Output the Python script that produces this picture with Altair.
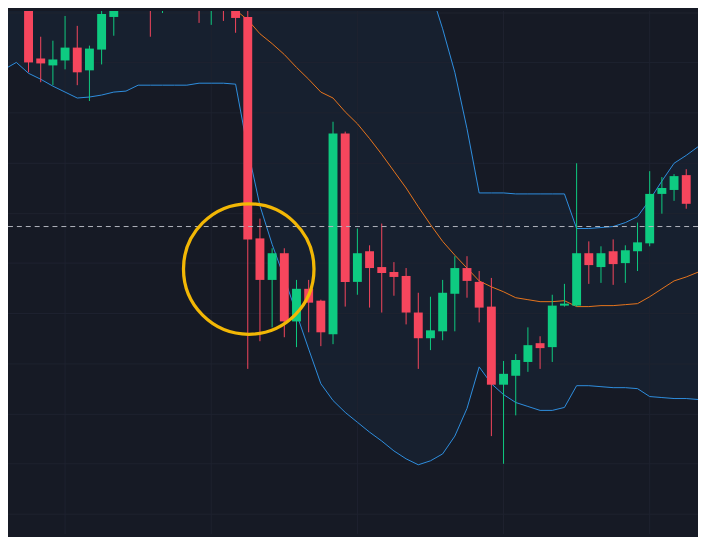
import altair as alt
import pandas as pd

# ---- candle data (index, OHLC in price units) ----
idx = list(range(-1, 55))
opens = [542, 557, 481, 474, 479, 492, 469, 490, 523, 549, 567, 552, 531, 547, 539, 543, 536, 545, 539,
         523, 299, 257, 284, 215, 248, 236, 202, 405, 255, 286, 270, 265, 261, 224, 198, 205, 243, 269,
         255, 230, 151, 160, 174, 193, 189, 231, 231, 284, 270, 286, 274, 286, 294, 344, 348, 363]
highs = [572, 577, 503, 499, 524, 514, 494, 529, 559, 577, 579, 565, 557, 559, 550, 552, 555, 555, 549,
         542, 319, 289, 289, 257, 257, 237, 417, 407, 309, 292, 314, 275, 269, 244, 240, 257, 281, 281,
         266, 259, 175, 182, 209, 200, 242, 253, 375, 296, 291, 298, 292, 315, 367, 361, 364, 369]
lows = [534, 467, 457, 454, 470, 454, 438, 475, 504, 534, 540, 503, 527, 533, 531, 517, 515, 519, 507,
        167, 195, 209, 199, 189, 204, 190, 192, 230, 242, 229, 224, 241, 212, 167, 186, 196, 205, 239,
        214, 99, 71, 120, 164, 167, 174, 230, 230, 253, 254, 252, 254, 266, 291, 324, 337, 329]
closes = [562, 477, 476, 480, 492, 467, 491, 526, 549, 567, 552, 530, 547, 539, 535, 536, 545, 537, 522,
          298, 257, 284, 215, 248, 234, 204, 405, 255, 284, 269, 264, 260, 224, 198, 206, 244, 269, 256,
          229, 151, 162, 176, 191, 188, 231, 233, 284, 272, 284, 273, 287, 295, 344, 350, 362, 334]

# ---- Bollinger bands ----
band_idx = list(range(-2, 56))
upper = [607, 602, 612, 615, 619, 625, 632, 631, 630, 627, 625, 619, 619, 619, 619, 619, 617, 617, 612,
         607, 648, 680, 705, 723, 732, 741, 742, 745, 731, 717, 697, 674, 650, 624, 594, 550, 511, 467,
         410, 345, 345, 345, 344, 344, 344, 344, 344, 309, 309, 310, 311, 315, 321, 338, 357, 375, 383, 392]
middle = [540, 540, 542, 541, 540, 539, 537, 537, 538, 540, 541, 539, 536, 535, 537, 538, 537, 536, 534,
          530, 520, 506, 496, 485, 472, 460, 447, 441, 427, 415, 400, 384, 367, 350, 331, 313, 296, 282,
          269, 256, 250, 245, 239, 237, 235, 235, 236, 230, 230, 231, 231, 232, 233, 240, 248, 256, 260, 265]
lower = [470, 477, 466, 460, 453, 447, 441, 442, 444, 447, 448, 454, 454, 454, 454, 454, 456, 456, 456,
         455, 389, 332, 293, 259, 223, 187, 152, 135, 123, 113, 103, 94, 84, 76, 70, 74, 81, 99,
         127, 169, 152, 141, 133, 129, 125, 125, 128, 150, 150, 149, 148, 148, 147, 139, 138, 137, 137, 136]

grid_x = [3, 15, 27, 39, 51]
grid_y = [20, 71, 121, 172, 223, 274, 324, 375, 426, 477, 527]
price_line = [311]
circle_x = [18.08]
circle_y = [268]

BG = "#161a25"
UP = "#0ecb81"
DOWN = "#f6465d"

candles = pd.DataFrame({"i": idx, "open": opens, "high": highs, "low": lows, "close": closes})
candles["dir"] = ["up" if c >= o else "down" for o, c in zip(opens, closes)]
bands = pd.DataFrame({"i": band_idx, "upper": upper, "middle": middle, "lower": lower})

xs = alt.Scale(domain=[-1.28, 54.56], nice=False, zero=False)
ys = alt.Scale(domain=[0, 529], nice=False, zero=False)
X = lambda f: alt.X(f, type="quantitative", scale=xs, axis=None)
Y = lambda f: alt.Y(f, type="quantitative", scale=ys, axis=None)
col = alt.Color("dir:N", scale=alt.Scale(domain=["up", "down"], range=[UP, DOWN]), legend=None)

fill = alt.Chart(bands).mark_area(color="#17202f", clip=True).encode(x=X("i"), y=Y("upper"), y2="lower")

gx = alt.Chart(pd.DataFrame({"g": grid_x})).mark_rule(color="#1e2230", strokeWidth=1, clip=True).encode(x=X("g"))
gy = alt.Chart(pd.DataFrame({"g": grid_y})).mark_rule(color="#1e2230", strokeWidth=1, clip=True).encode(y=Y("g"))

up_line = alt.Chart(bands).mark_line(color="#2f8fe0", strokeWidth=1, clip=True).encode(x=X("i"), y=Y("upper"))
lo_line = alt.Chart(bands).mark_line(color="#2f8fe0", strokeWidth=1, clip=True).encode(x=X("i"), y=Y("lower"))
mid_line = alt.Chart(bands).mark_line(color="#e8741c", strokeWidth=1, clip=True).encode(x=X("i"), y=Y("middle"))

wicks = alt.Chart(candles).mark_rule(strokeWidth=1, clip=True).encode(x=X("i"), y=Y("low"), y2="high", color=col)
bodies = alt.Chart(candles).mark_bar(size=9, clip=True).encode(x=X("i"), y=Y("open"), y2="close", color=col)

pline = alt.Chart(pd.DataFrame({"p": price_line})).mark_rule(
    color="#b2b5be", strokeWidth=1, strokeDash=[5, 4], clip=True).encode(y=Y("p"))

circle = alt.Chart(pd.DataFrame({"x": circle_x, "y": circle_y})).mark_point(
    shape="circle", size=17424, filled=False, color="#f2b705", strokeWidth=3.3, opacity=1, clip=True
).encode(x=X("x"), y=Y("y"))

chart = alt.layer(fill, gx, gy, up_line, lo_line, mid_line, wicks, bodies, pline, circle).properties(
    width=698, height=529, background=BG, padding=0,
    autosize=alt.AutoSizeParams(type="none"),
).configure_view(stroke=None)

chart.save("out.html", embed_options={"renderer": "svg", "actions": False})
